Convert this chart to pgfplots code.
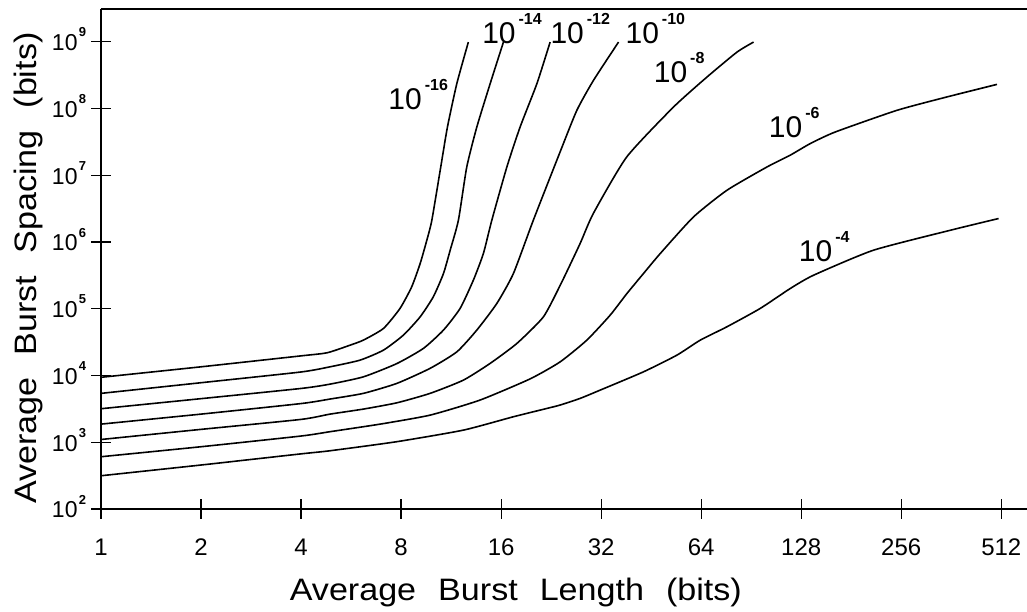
\documentclass[border=0pt]{standalone}
\usepackage{fontspec}
\setmainfont{Liberation Sans}
\newfontfamily\labfont[FakeStretch=1.1]{Liberation Sans}
\usepackage{pgfplots}
\pgfplotsset{compat=1.18}

% exponent labels in the plotter style
\newcommand{\ylab}[1]{10\hspace{0.6pt}\raisebox{6.8pt}{\fontsize{6.5}{6.5}\selectfont\bfseries #1}}
\newcommand{\clab}[1]{10\hspace{1.5pt}\raisebox{9.5pt}{\fontsize{8}{8}\selectfont\bfseries #1}}
\newcommand{\gap}{\hspace{11pt}}

\pgfplotsset{curve/.style={black, solid, no markers, line width=0.8pt, smooth, tension=0.35}}

\begin{document}
\begin{tikzpicture}
\begin{axis}[
    scale only axis,
    width=463pt, height=250pt,
    xmode=log, ymode=log, log basis x=2,
    xmin=1, xmax=612, ymin=100, ymax=3.1e9,
    separate axis lines,
    axis x line=box, axis y line=left,
    axis line style={-, line width=1pt},
    every outer x axis line/.append style={-},
    every outer y axis line/.append style={-},
    every inner x axis line/.append style={-},
    every inner y axis line/.append style={-},
    xtick pos=left,
    xtick={1,2,4,8,16,32,64,128,256,512},
    xticklabels={1,2,4,8,16,32,64,128,256,512},
    ytick={1e2,1e3,1e4,1e5,1e6,1e7,1e8,1e9},
    yticklabels={\ylab{2},\ylab{3},\ylab{4},\ylab{5},\ylab{6},\ylab{7},\ylab{8},\ylab{9}},
    xminorticks=false, yminorticks=false,
    tick align=center, major tick length=10pt,
    tick style={line width=0.6pt, black},
    xticklabel style={font=\fontsize{12}{14}\selectfont, anchor=base, yshift=-18.5pt},
    yticklabel style={font=\fontsize{11.5}{12}\selectfont, anchor=base east, xshift=1pt, yshift=-4.4pt},
    xlabel={Average\gap Burst\gap Length\gap (bits)},
    xlabel style={font=\labfont\fontsize{15.5}{18}\selectfont, at={(axis description cs:0.448,-0.182)}, anchor=base},
    ylabel={Average\gap Burst\gap Spacing\gap (bits)},
    ylabel style={font=\labfont\fontsize{15.5}{18}\selectfont, at={(axis description cs:-0.0788,0.482)}, anchor=center},
    clip=false,
]
% 10^-16
\addplot[curve] coordinates {(1,9400) (2,13500) (4,19700) (4.79,21900) (5.62,28500) (6.16,33900) (7.08,50700) (7.94,101000) (8.61,213000) (9.13,476000) (9.56,1.06e6) (9.90,2.12e6) (10.53,1.33e7) (11.03,5.28e7) (11.77,2.36e8) (12.75,9.9e8)};
% 10^-14
\addplot[curve] coordinates {(1,5400) (2,7800) (4,11300) (4.89,13500) (6.02,17000) (7.08,24000) (8.13,40300) (9.13,75700) (10.0,151000) (10.73,337000) (11.24,753000) (11.9,2.12e6) (12.61,1.33e7) (13.52,5.28e7) (14.83,2.36e8) (16.26,9.9e8)};
% 10^-12
\addplot[curve] coordinates {(1,3180) (2,4500) (4,6400) (4.89,7430) (6.16,9550) (7.77,15100) (9.34,25500) (10.73,47900) (12.04,101000) (13.2,268000) (14.15,673000) (15.0,2.12e6) (16.65,1.33e7) (18.25,5.28e7) (20.5,2.36e8) (22.47,9.9e8)};
% 10^-10
\addplot[curve] coordinates {(1,1870) (2,2640) (4,3800) (4.89,4440) (6.16,5400) (7.77,7620) (9.78,12800) (11.77,22600) (13.52,47900) (15.53,120000) (17.42,337000) (20.0,2.12e6) (24.08,2.24e7) (27.04,9.4e7) (30.34,2.64e8) (36.1,9.9e8)};
% 10^-8
\addplot[curve] coordinates {(1,1100) (2,1560) (4,2200) (4.89,2640) (6.16,3140) (7.77,3900) (9.78,5400) (12.32,8530) (14.83,15200) (17.84,30200) (21.45,75700) (24.25,240000) (27.66,950000) (30.3,2.67e6) (38.2,1.88e7) (52.8,1.05e8) (66.6,2.96e8) (82.0,7.0e8) (92.0,9.9e8)};
% 10^-6
\addplot[curve] coordinates {(1,607) (2,857) (4,1240) (4.89,1440) (6.92,1870) (9.78,2550) (13.83,4290) (19.56,8900) (24.08,16000) (28.98,33900) (34.06,80200) (38.25,169000) (42.9,337000) (48.2,673000) (60.7,2.38e6) (76.5,5.96e6) (100.9,1.33e7) (118.6,2.0e7) (136.2,2.98e7) (162,4.45e7) (248.5,9.4e7) (351,1.49e8) (497,2.3e8)};
% 10^-4
\addplot[curve] coordinates {(1,315) (2,456) (4,670) (4.89,746) (7.77,1020) (12.32,1520) (17.42,2410) (21.96,3210) (24.08,3610) (27.66,4540) (31.78,6040) (42.9,11350) (54.1,20200) (63.6,33900) (76.5,53700) (96.3,101000) (118.6,201000) (139.4,318000) (211,753000) (359.5,1.5e6) (502.6,2.25e6)};

\draw[line width=1pt] (rel axis cs:0,1) -- (rel axis cs:1,1);

\begin{scope}[every node/.style={font=\fontsize{15}{16}\selectfont, anchor=base west, inner sep=0pt}]
\node at (axis cs:7.31,9.73e7) {\clab{-16}};
\node at (axis cs:14.0,9.55e8) {\clab{-14}};
\node at (axis cs:22.47,9.36e8) {\clab{-12}};
\node at (axis cs:37.8,9.36e8) {\clab{-10}};
\node at (axis cs:45.98,2.49e8) {\clab{-8}};
\node at (axis cs:102.1,3.66e7) {\clab{-6}};
\node at (axis cs:125.6,5.04e5) {\clab{-4}};
\end{scope}
\end{axis}
\pgfresetboundingbox
\path (-50.5pt,-51pt) rectangle ++(513.5pt,305.5pt);
\end{tikzpicture}
\end{document}
